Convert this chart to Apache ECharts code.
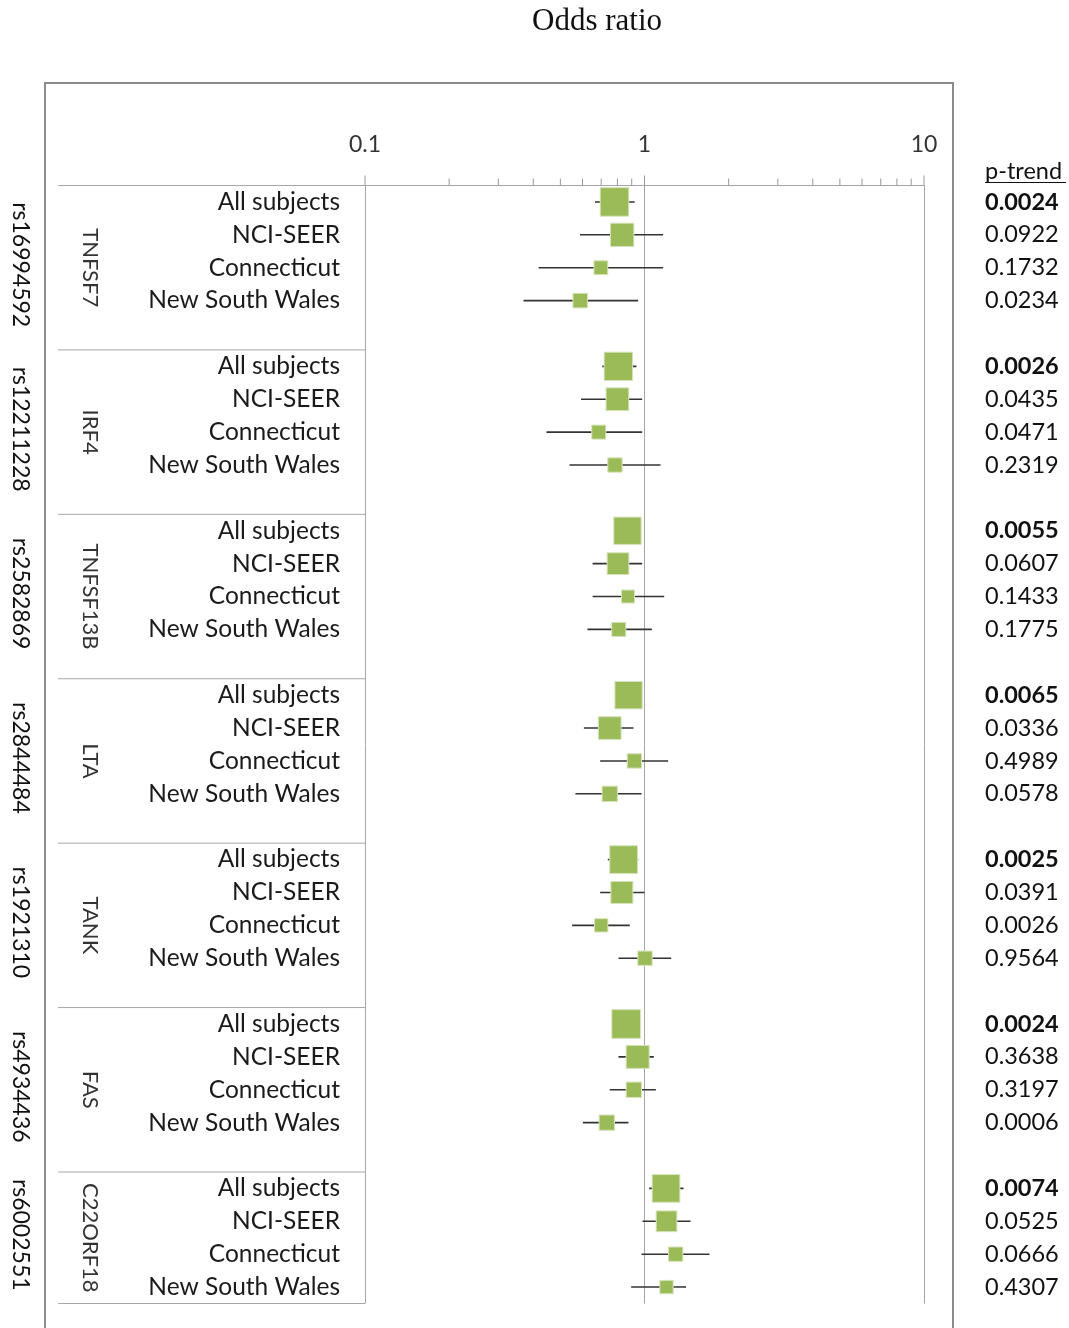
<!DOCTYPE html>
<html><head><meta charset="utf-8">
<script src="https://cdn.jsdelivr.net/npm/echarts@6/dist/echarts.min.js"></script>
<style>html,body{margin:0;padding:0;background:#fff}#c{width:1069px;height:1328px}</style>
</head><body><div id="c"></div>
<script>
// ---- data ----
const snps = ['rs16994592','rs12211228','rs2582869','rs2844484','rs1921310','rs4934436','rs6002551'];
const genes = ['TNFSF7','IRF4','TNFSF13B','LTA','TANK','FAS','C22ORF18'];
const studies = ['All subjects','NCI-SEER','Connecticut','New South Wales'];
const oddsRatio = [
  0.781,0.832,0.698,0.589,
  0.806,0.800,0.686,0.784,
  0.869,0.804,0.873,0.809,
  0.877,0.751,0.920,0.751,
  0.842,0.830,0.700,1.004,
  0.860,0.945,0.916,0.733,
  1.194,1.199,1.293,1.199];
const ciLow = [
  0.665,0.588,0.418,0.369,
  0.706,0.593,0.446,0.539,
  0.800,0.652,0.652,0.625,
  0.800,0.607,0.694,0.566,
  0.739,0.694,0.551,0.807,
  0.780,0.807,0.751,0.602,
  1.039,0.984,0.976,0.896];
const ciHigh = [
  0.922,1.166,1.166,0.949,
  0.936,0.981,0.981,1.141,
  0.950,0.981,1.176,1.062,
  0.960,0.913,1.215,0.976,
  0.950,1.000,0.886,1.246,
  0.950,1.080,1.098,0.876,
  1.379,1.461,1.708,1.409];
const studyWeight = [
  28.5,23.3,13.8,14.6,
  28.3,22.7,14.0,14.3,
  27.3,21.7,13.0,14.0,
  27.3,22.7,14.3,15.3,
  27.7,22.0,13.3,14.3,
  28.7,23.0,15.3,15.3,
  27.7,20.7,14.3,13.3];
const pTrend = [
  '0.0024','0.0922','0.1732','0.0234',
  '0.0026','0.0435','0.0471','0.2319',
  '0.0055','0.0607','0.1433','0.1775',
  '0.0065','0.0336','0.4989','0.0578',
  '0.0025','0.0391','0.0026','0.9564',
  '0.0024','0.3638','0.3197','0.0006',
  '0.0074','0.0525','0.0666','0.4307'];
const majorTicks = [0.1, 1, 10];
const minorTicks = [0.2,0.3,0.4,0.5,0.6,0.7,0.8,0.9,2,3,4,5,6,7,8,9];
// ---- layout ----
const FONT = 'Lato';
const GRID_LEFT = 365, GRID_RIGHT_X = 924, GRID_TOP = 185.5, GRID_BOTTOM_Y = 1303.5;
const rowOf = (g, r) => g * 5 + r;
const yMin = -0.5, yMax = rowOf(6, 3) + 0.5;

const forestData = [], labelData = [];
for (let g = 0; g < genes.length; g++) {
  for (let r = 0; r < studies.length; r++) {
    const i = g * 4 + r;
    forestData.push([oddsRatio[i], ciLow[i], ciHigh[i], studyWeight[i], rowOf(g, r)]);
    labelData.push([1, rowOf(g, r), i]);
  }
}
const groupData = genes.map((_, g) => [1, rowOf(g, 0) - 0.5, g === genes.length - 1 ? rowOf(g, 3) + 0.5 : rowOf(g, 4) + 0.5, g]);
const tickData = majorTicks.map(v => [v, 1]).concat(minorTicks.map(v => [v, 0]));

const chart = echarts.init(document.getElementById('c'), null, {renderer: 'canvas'});
chart.setOption({
  animation: false,
  backgroundColor: '#fff',
  grid: {left: GRID_LEFT, right: 1069 - GRID_RIGHT_X, top: GRID_TOP, bottom: 1328 - GRID_BOTTOM_Y, containLabel: false},
  xAxis: {
    type: 'log', logBase: 10, min: 0.1, max: 10, position: 'top',
    axisLine: {show: true, onZero: false, lineStyle: {color: '#a6a6a6', width: 1}},
    axisTick: {show: false},
    axisLabel: {margin: 29, fontSize: 23, fontFamily: FONT, color: '#333',
      formatter: v => (v < 1 ? v.toFixed(1) : String(Math.round(v)))},
    splitLine: {show: true, lineStyle: {color: '#a6a6a6', width: 1}}
  },
  yAxis: {type: 'value', inverse: true, min: yMin, max: yMax, show: false},
  graphic: [
    {type: 'rect', z: -1, shape: {x: 45, y: 83, width: 908, height: 1300}, style: {fill: 'none', stroke: '#8c8c8c', lineWidth: 2}},
    {type: 'text', x: 597, y: 22, style: {text: 'Odds ratio', font: '31px "Liberation Serif", "Times New Roman", serif', fill: '#111', align: 'center', verticalAlign: 'middle'}},
    {type: 'text', x: 985, y: 171, style: {text: 'p-trend', font: '23.5px ' + FONT, fill: '#111', align: 'left', verticalAlign: 'middle'}},
    {type: 'line', shape: {x1: 985, y1: 182.5, x2: 1066, y2: 182.5}, style: {stroke: '#111', lineWidth: 1.2}}
  ],
  series: [
    {
      type: 'custom', name: 'ticks', data: tickData, encode: {x: 0}, silent: true, clip: false,
      renderItem(params, api) {
        const p = api.coord([api.value(0), yMin]);
        const len = api.value(1) ? 10 : 7;
        return {type: 'line', shape: {x1: p[0], y1: p[1], x2: p[0], y2: p[1] - len}, style: {stroke: '#999', lineWidth: 1}};
      }
    },
    {
      type: 'custom', name: 'groups', data: groupData, encode: {y: [1, 2]}, silent: true, clip: false,
      renderItem(params, api) {
        const g = api.value(3);
        const top = api.coord([1, api.value(1)])[1];
        const bot = api.coord([1, api.value(2)])[1];
        const mid = (top + bot) / 2;
        const ch = [
          {type: 'line', shape: {x1: 58, y1: top, x2: GRID_LEFT, y2: top}, style: {stroke: '#a6a6a6', lineWidth: 1}},
          {type: 'text', x: 20, y: mid - 3, rotation: -Math.PI / 2, style: {text: snps[g], font: '23px ' + FONT, fill: '#111', align: 'center', verticalAlign: 'middle'}},
          {type: 'text', x: 90, y: mid, rotation: -Math.PI / 2, style: {text: genes[g], font: '22px ' + FONT, fill: '#333', align: 'center', verticalAlign: 'middle'}}
        ];
        if (g === genes.length - 1) ch.push({type: 'line', shape: {x1: 58, y1: bot, x2: GRID_LEFT, y2: bot}, style: {stroke: '#a6a6a6', lineWidth: 1}});
        return {type: 'group', children: ch};
      }
    },
    {
      type: 'custom', name: 'labels', data: labelData, encode: {y: 1}, silent: true, clip: false,
      renderItem(params, api) {
        const i = api.value(2);
        const y = api.coord([1, api.value(1)])[1];
        const r = i % 4;
        return {type: 'group', children: [
          {type: 'text', x: 340, y: y, style: {text: studies[r], font: '24.5px ' + FONT, fill: '#1a1a1a', align: 'right', verticalAlign: 'middle'}},
          {type: 'text', x: 985, y: y, style: {text: pTrend[i], font: (r === 0 ? 'bold ' : '') + '23.5px ' + FONT, fill: '#111', align: 'left', verticalAlign: 'middle'}}
        ]};
      }
    },
    {
      type: 'custom', name: 'forest', data: forestData, encode: {x: [0, 1, 2], y: 4}, clip: false,
      renderItem(params, api) {
        const row = api.value(4);
        const c = api.coord([api.value(0), row]);
        const lo = api.coord([api.value(1), row]);
        const hi = api.coord([api.value(2), row]);
        const s = api.value(3);
        return {type: 'group', children: [
          {type: 'line', shape: {x1: lo[0], y1: c[1], x2: hi[0], y2: c[1]}, style: {stroke: '#333', lineWidth: 1.6}},
          {type: 'rect', shape: {x: c[0] - s / 2, y: c[1] - s / 2, width: s, height: s}, style: {fill: '#9BBB59', stroke: '#d5e3b8', lineWidth: 1}}
        ]};
      }
    }
  ]
});
</script></body></html>
